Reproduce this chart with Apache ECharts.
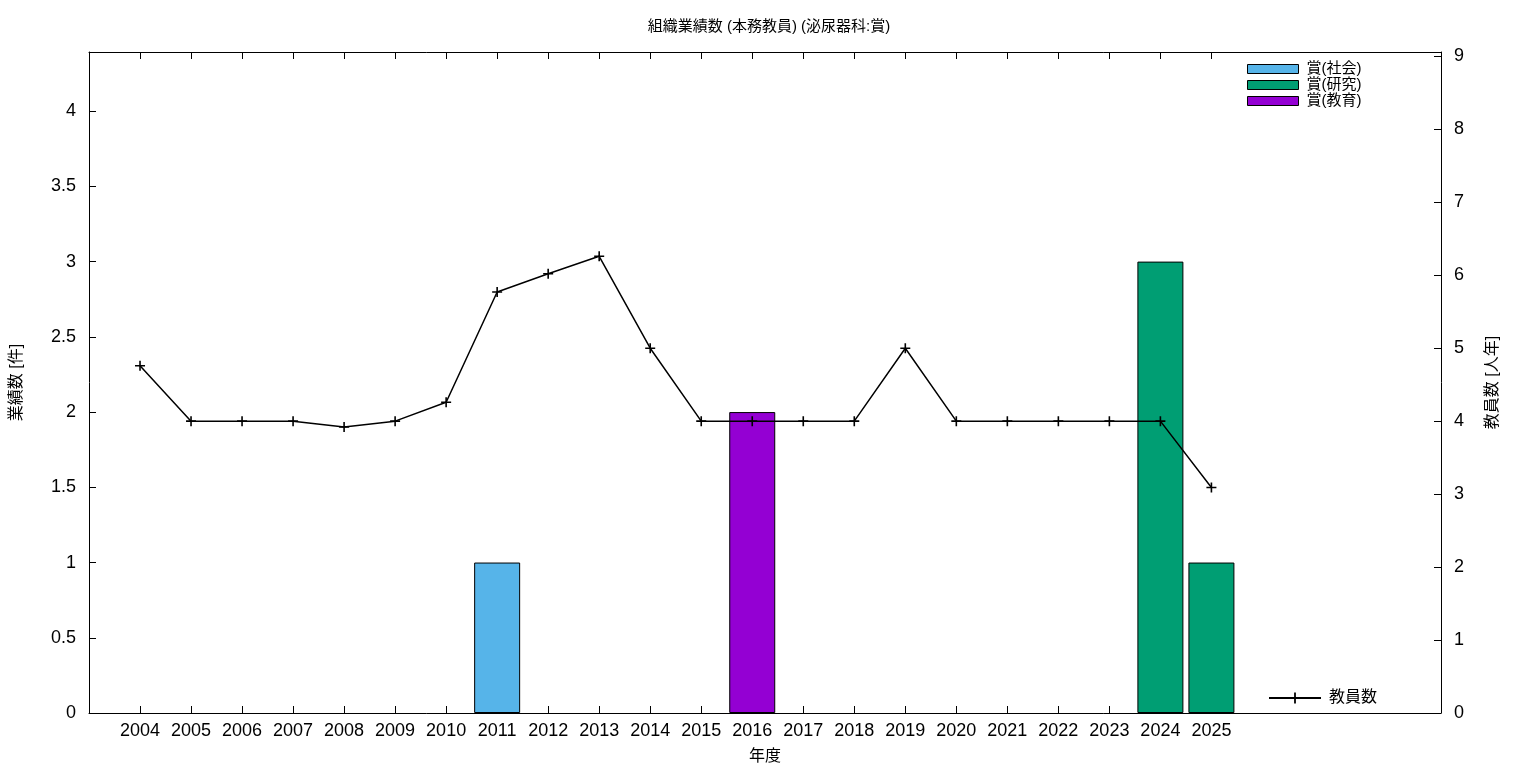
<!DOCTYPE html>
<html>
<head>
<meta charset="utf-8">
<script src="https://cdn.jsdelivr.net/npm/echarts@6/dist/echarts.min.js"></script>
<style>html,body{margin:0;padding:0;background:#fff}#c{width:1536px;height:768px}</style>
</head>
<body>
<div id="c"></div>
<script>
const years = [2004,2005,2006,2007,2008,2009,2010,2011,2012,2013,2014,2015,2016,2017,2018,2019,2020,2021,2022,2023,2024,2025];
const staff = [4.76,4.0,4.0,4.0,3.92,4.0,4.26,5.77,6.02,6.26,5.0,4.0,4.0,4.0,4.0,5.0,4.0,4.0,4.0,4.0,4.0,3.09];
const awardSocial = [[2011,1]];
const awardResearch = [[2024,3],[2025,1]];
const awardEducation = [[2016,2]];
const leftTicks = [0,0.5,1,1.5,2,2.5,3,3.5,4];
const rightTicks = [0,1,2,3,4,5,6,7,8,9];
const seriesNames = ['賞(社会)','賞(研究)','賞(教育)','教員数'];

const FONT = '"Liberation Sans", "Noto Sans CJK JP", sans-serif';
const chart = echarts.init(document.getElementById('c'));
const plus = 'path://M4.2,0h1.6v4.2h4.2v1.6h-4.2v4.2h-1.6v-4.2h-4.2v-1.6h4.2z';
const axisLineStyle = {show:true, onZero:false, lineStyle:{color:'#000', width:1}};
const barStyle = c => ({color:c, borderColor:'#000', borderWidth:1});

chart.setOption({
  animation:false,
  backgroundColor:'#fff',
  textStyle:{fontFamily:FONT, color:'#000'},
  title:{text:'組織業績数 (本務教員) (泌尿器科:賞)', left:764, top:14, textAlign:'center',
    textStyle:{fontSize:15, fontWeight:'normal', color:'#000', fontFamily:FONT}},
  grid:{left:89, right:95, top:52, bottom:55, outerBoundsMode:'none', containLabel:false},
  legend:[
    {data:seriesNames.slice(0,3), orient:'vertical', left:1247, top:61, padding:0, itemWidth:51, itemHeight:9, itemGap:0,
      icon:'rect', itemStyle:{borderWidth:1, borderColor:'#000'},
      textStyle:{fontSize:15, lineHeight:16, color:'#000', fontFamily:FONT, padding:[0,0,0,3]}},
    {data:[seriesNames[3]], left:1268, top:690, padding:0, itemWidth:52, itemHeight:14, itemGap:10,
      textStyle:{fontSize:16, color:'#000', fontFamily:FONT, padding:[0,0,0,3]}}
  ],
  xAxis:[
    {type:'value', position:'bottom', min:2003, max:2029.5,
      name:'年度', nameLocation:'middle', nameGap:36, nameTextStyle:{fontSize:16, color:'#000'},
      axisLine:axisLineStyle, splitLine:{show:false},
      axisTick:{show:true, inside:true, length:7, customValues:years, lineStyle:{color:'#000'}},
      axisLabel:{customValues:years, fontSize:18, color:'#000', margin:9, formatter:v=>String(v)}},
    {type:'value', position:'top', min:2003, max:2029.5,
      axisLine:axisLineStyle, splitLine:{show:false},
      axisTick:{show:true, inside:true, length:7, customValues:years, lineStyle:{color:'#000'}},
      axisLabel:{show:false}}
  ],
  yAxis:[
    {type:'value', position:'left', min:0, max:4.393,
      name:'業績数 [件]', nameLocation:'middle', nameRotate:90, nameGap:64, nameTextStyle:{fontSize:16, color:'#000'},
      axisLine:axisLineStyle, splitLine:{show:false},
      axisTick:{show:true, inside:true, length:7, customValues:leftTicks, lineStyle:{color:'#000'}},
      axisLabel:{customValues:leftTicks, fontSize:18, color:'#000', margin:13}},
    {type:'value', position:'right', min:0, max:9.06,
      name:'教員数 [人年]', nameLocation:'middle', nameRotate:90, nameGap:44, nameTextStyle:{fontSize:16, color:'#000'},
      axisLine:axisLineStyle, splitLine:{show:false},
      axisTick:{show:true, inside:true, length:7, customValues:rightTicks, lineStyle:{color:'#000'}},
      axisLabel:{customValues:rightTicks, fontSize:18, color:'#000', margin:13}}
  ],
  series:[
    {name:seriesNames[0], type:'bar', stack:'a', xAxisIndex:0, yAxisIndex:0, barWidth:46, data:awardSocial, itemStyle:barStyle('#56b4e9')},
    {name:seriesNames[1], type:'bar', stack:'a', xAxisIndex:0, yAxisIndex:0, barWidth:46, data:awardResearch, itemStyle:barStyle('#009e73')},
    {name:seriesNames[2], type:'bar', stack:'a', xAxisIndex:0, yAxisIndex:0, barWidth:46, data:awardEducation, itemStyle:barStyle('#9400d3')},
    {name:seriesNames[3], type:'line', xAxisIndex:0, yAxisIndex:1, z:5,
      data:years.map((y,i)=>[y,staff[i]]),
      symbol:plus, symbolSize:10, showAllSymbol:true,
      itemStyle:{color:'#000'}, lineStyle:{color:'#000', width:1.5}}
  ]
});
</script>
</body>
</html>
